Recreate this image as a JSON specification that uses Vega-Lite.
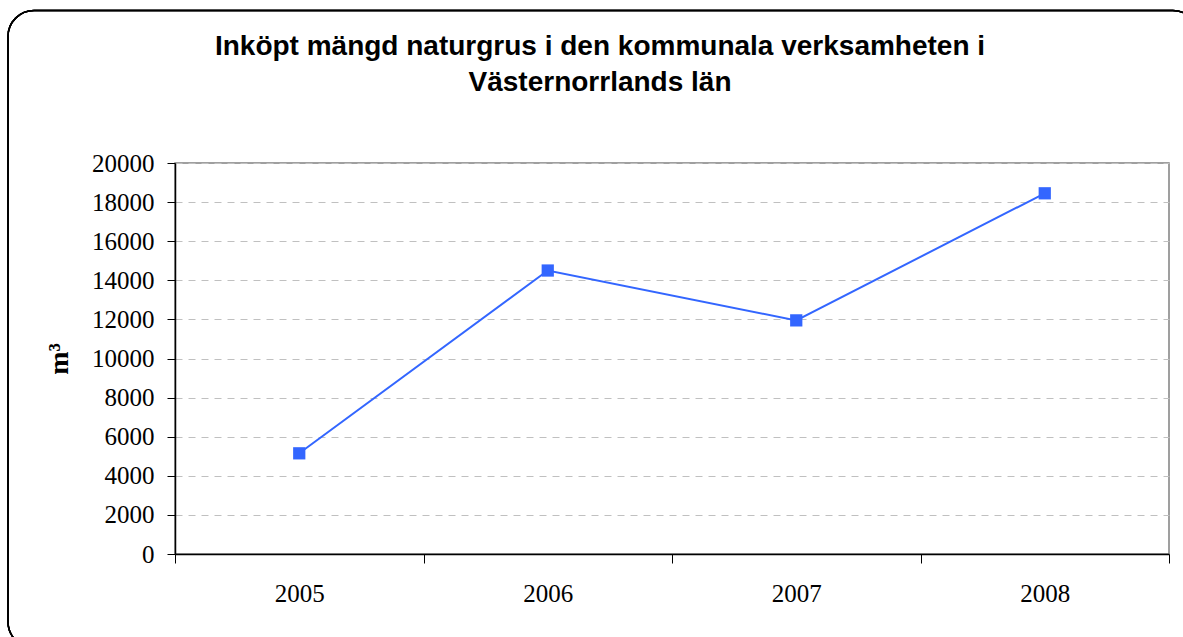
{
  "$schema": "https://vega.github.io/schema/vega-lite/v6.json",
  "autosize": {"type": "none"},
  "width": 994,
  "height": 391,
  "padding": {"left": 175, "top": 163, "right": 14, "bottom": 83},
  "background": "white",
  "config": {
    "view": {"stroke": "#808080", "strokeWidth": 1.5},
    "axisY": {"labelOverlap": false}
  },
  "title": {
    "text": ["Inköpt mängd naturgrus i den kommunala verksamheten i", "Västernorrlands län"],
    "font": "Liberation Sans",
    "fontSize": 28,
    "fontWeight": "bold",
    "color": "black",
    "anchor": "middle",
    "frame": "group",
    "dx": -72,
    "baseline": "bottom",
    "lineHeight": 36,
    "offset": -115
  },
  "data": {
    "values": [
      {"year": "2005", "m3": 5150},
      {"year": "2006", "m3": 14500},
      {"year": "2007", "m3": 11950},
      {"year": "2008", "m3": 18450}
    ]
  },
  "resolve": {"scale": {"x": "independent", "y": "independent"}},
  "layer": [
    {
      "mark": {"type": "rect", "fill": null, "fillOpacity": 0, "stroke": "black", "strokeWidth": 1.5, "cornerRadius": 26, "clip": false},
      "encoding": {
        "x": {"datum": -0.168, "type": "quantitative", "scale": {"domain": [0, 1], "nice": false, "zero": false}, "axis": null},
        "x2": {"datum": 1.03},
        "y": {"datum": 1.39, "type": "quantitative", "scale": {"domain": [0, 1], "nice": false, "zero": false}, "axis": null},
        "y2": {"datum": -0.24}
      }
    },
    {
      "mark": {
        "type": "line",
        "color": "#3366ff",
        "strokeWidth": 2,
        "point": {"shape": "square", "size": 150, "filled": true, "color": "#3366ff", "opacity": 1}
      },
      "encoding": {
        "x": {
          "field": "year",
          "type": "ordinal",
          "scale": {"paddingInner": 0, "paddingOuter": 0},
          "axis": {
            "title": null,
            "labelAngle": 0,
            "labelFont": "Liberation Serif",
            "labelFontSize": 25,
            "labelColor": "black",
            "labelPadding": 18,
            "tickBand": "extent",
            "tickSize": 9,
            "tickColor": "black",
            "domainColor": "black",
            "domainWidth": 1.5,
            "grid": false
          }
        },
        "y": {
          "field": "m3",
          "type": "quantitative",
          "scale": {"domain": [0, 20000], "nice": false},
          "axis": {
            "title": "m³",
            "titleFont": "Liberation Serif",
            "titleFontSize": 28,
            "titleFontWeight": "bold",
            "titleColor": "black",
            "titlePadding": 18,
            "values": [0, 2000, 4000, 6000, 8000, 10000, 12000, 14000, 16000, 18000, 20000],
            "format": "d",
            "labelOverlap": false,
            "labelFont": "Liberation Serif",
            "labelFontSize": 25,
            "labelColor": "black",
            "labelPadding": 13,
            "tickSize": 8,
            "tickColor": "black",
            "domainColor": "black",
            "domainWidth": 1.5,
            "grid": true,
            "gridColor": "#c0c0c0",
            "gridDash": [7, 6],
            "gridWidth": 1
          }
        }
      }
    }
  ]
}
